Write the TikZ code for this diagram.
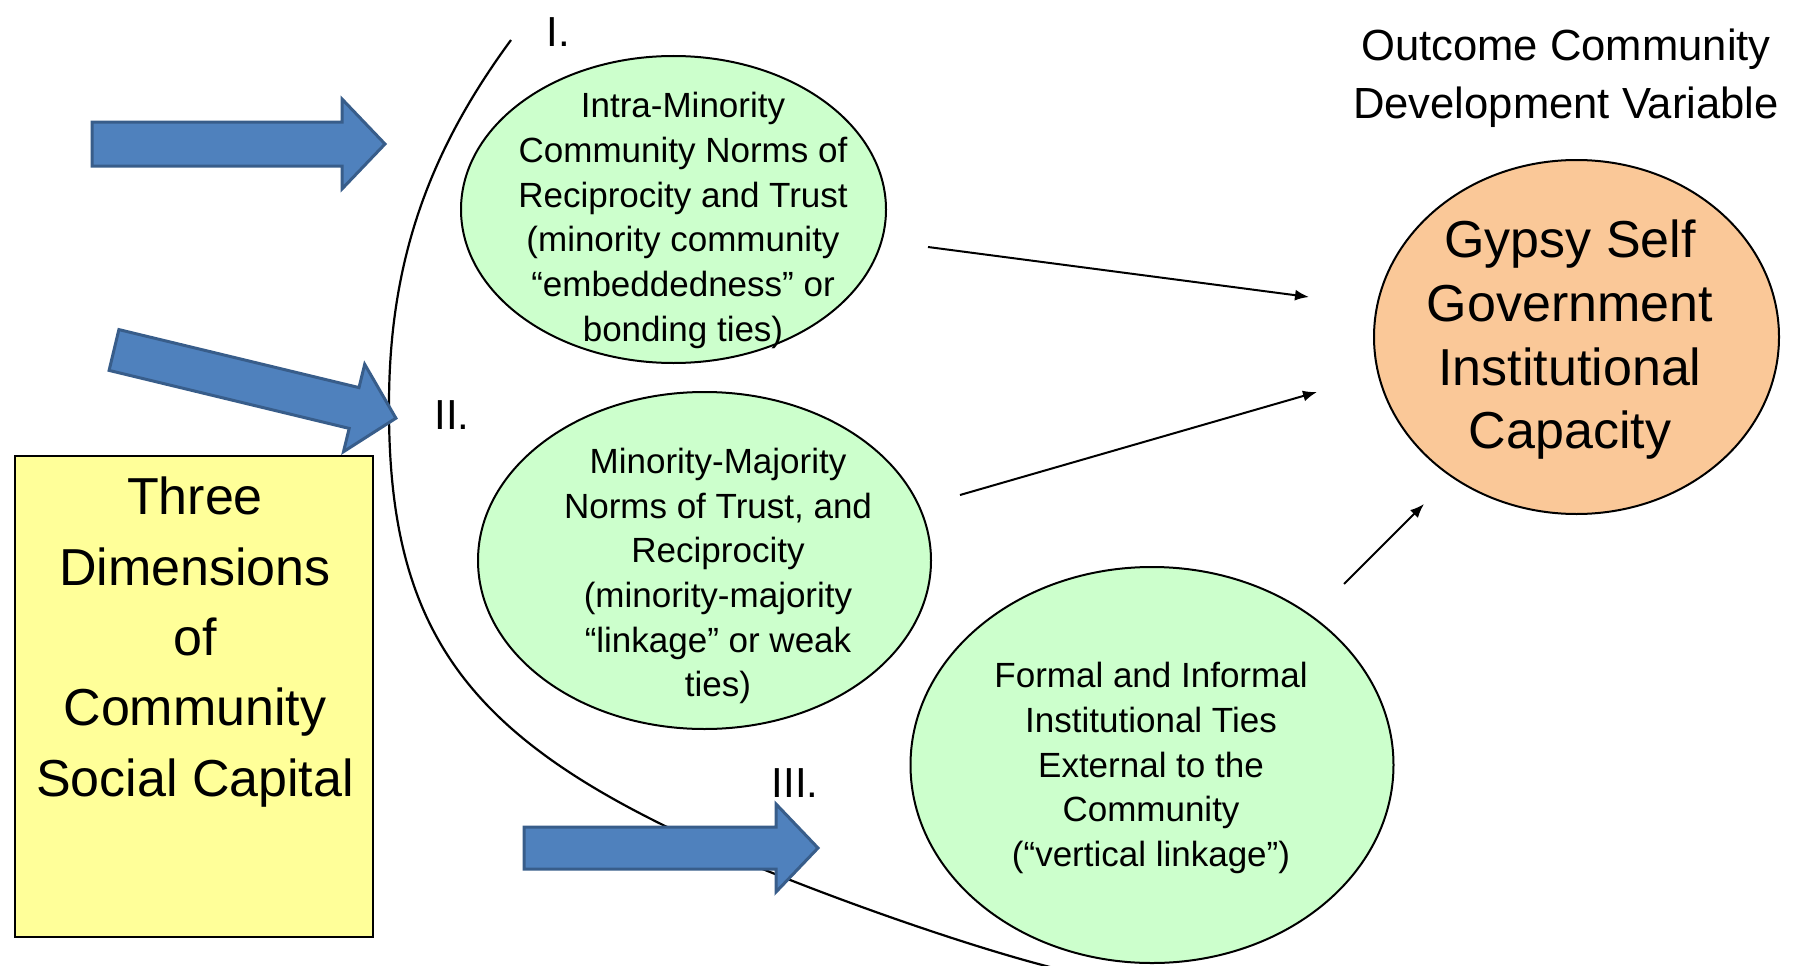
\documentclass[tikz,border=0pt]{standalone}
\usepackage{fontspec}
\setmainfont{Liberation Sans}
\usetikzlibrary{shapes.geometric,arrows.meta}
\definecolor{greenfill}{HTML}{CCFFCC}
\definecolor{yellowfill}{HTML}{FFFF99}
\definecolor{orangefill}{HTML}{FAC898}
\definecolor{bluefill}{HTML}{4F81BD}
\definecolor{blueline}{HTML}{385D8A}
\begin{document}
\begin{tikzpicture}[x=1pt,y=-1pt,
  ell/.style={ellipse, draw=black, line width=2pt, inner sep=0pt},
  etxt/.style={align=center, inner sep=0pt, font=\fontsize{35}{44.7}\selectfont},
  bigtxt/.style={align=center, inner sep=0pt, font=\fontsize{52}{63.7}\selectfont},
  romlabel/.style={inner sep=0pt, font=\fontsize{42}{50}\selectfont},
  blockarrow/.style={fill=bluefill, draw=blueline, line width=3pt, line join=miter},
  link/.style={line width=2pt, -{Latex[length=14pt,width=11pt]}}
]
\useasboundingbox (0,0) rectangle (1796,966);

% big curved line
\draw[line width=2.2pt] (511,40) .. controls (430,150) and (389,260) .. (389,405)
  .. controls (388,620) and (460,725) .. (663,825)
  .. controls (766,876) and (962,946) .. (1062,970);

% yellow box
\node[draw=black, line width=2.5pt, fill=yellowfill, minimum width=358pt, minimum height=481pt, inner sep=0pt] (box) at (194,696.5) {};
\node[align=center, inner sep=0pt, font=\fontsize{52}{70.4}\selectfont] (boxt) at (195,642) {Three\\Dimensions\\of\\Community\\Social Capital};

% blue block arrows
\draw[blockarrow] (92,122) -- (342,122) -- (342,99) -- (385,144) -- (342,189) -- (342,166) -- (92,166) -- cycle;
\draw[blockarrow] (118.9,329.6) -- (359.0,387.6) -- (364.7,364.3) -- (395.9,418.2) -- (343.5,451.7) -- (349.2,428.4) -- (109.1,370.4) -- cycle;
\draw[blockarrow] (524,827) -- (776,827) -- (776,804) -- (818,848) -- (776,892) -- (776,869) -- (524,869) -- cycle;

% labels
\node[romlabel] (l1) at (558,32) {I.};
\node[romlabel] (l2) at (452,415) {II.};
\node[romlabel] (l3) at (795,783) {III.};

% green ellipses
\node[ell, fill=greenfill, minimum width=425pt, minimum height=307pt] (e1) at (673.5,209.5) {};
\node[etxt] (e1t) at (683,220.5) {Intra-Minority\\Community Norms of\\Reciprocity and Trust\\(minority community\\“embeddedness” or\\bonding ties)};

\node[ell, fill=greenfill, minimum width=453pt, minimum height=337pt] (e2) at (704.5,560.5) {};
\node[etxt] (e2t) at (718,576) {Minority-Majority\\Norms of Trust, and\\Reciprocity\\(minority-majority\\“linkage” or weak\\ties)};

\node[ell, fill=greenfill, minimum width=483pt, minimum height=396pt] (e3) at (1152,765) {};
\node[etxt] (e3t) at (1151,768) {Formal and Informal\\Institutional Ties\\External to the\\Community\\(“vertical linkage”)};

% outcome
\node[align=center, inner sep=0pt, font=\fontsize{43.6}{58}\selectfont] (title) at (1566,78.5) {Outcome Community\\Development Variable};
\node[ell, fill=orangefill, minimum width=405pt, minimum height=354pt] (out) at (1576.5,337) {};
\node[bigtxt] (outt) at (1570,340) {Gypsy Self\\Government\\Institutional\\Capacity};

% black arrows
\coordinate (a1s) at (928,247);
\coordinate (a1e) at (1309,297);
\coordinate (a2s) at (960,495);
\coordinate (a2e) at (1317,392);
\coordinate (a3s) at (1344,584);
\coordinate (a3e) at (1424,504);
\draw[link] (a1s) -- (a1e);
\draw[link] (a2s) -- (a2e);
\draw[link] (a3s) -- (a3e);
\end{tikzpicture}
\end{document}
